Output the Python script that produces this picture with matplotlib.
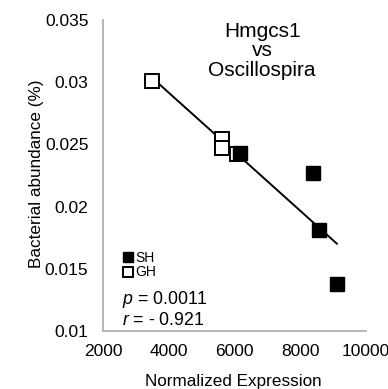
import matplotlib
matplotlib.use("Agg")
import matplotlib.pyplot as plt
import numpy as np

plt.rcParams['font.family'] = ['Liberation Sans', 'DejaVu Sans']
plt.rcParams['mathtext.fontset'] = 'custom'
plt.rcParams['mathtext.rm'] = 'Liberation Sans'
plt.rcParams['mathtext.it'] = 'Liberation Sans:italic'

# expression vs abundance
sh_x = [6170, 8400, 8570, 9110]
sh_y = [0.0243, 0.0227, 0.0181, 0.0138]
gh_x = [3480, 5610, 5610, 6070]
gh_y = [0.0301, 0.0254, 0.0247, 0.0242]

x_ticks = [2000, 4000, 6000, 8000, 10000]
y_ticks = [0.01, 0.015, 0.02, 0.025, 0.03, 0.035]
y_tick_labels = ["0.01", "0.015", "0.02", "0.025", "0.03", "0.035"]

fig = plt.figure(figsize=(3.88, 3.89), dpi=100)
ax = fig.add_axes([0.2655, 0.149, 0.678, 0.80])

all_x = np.array(gh_x + sh_x)
all_y = np.array(gh_y + sh_y)
m, c = np.polyfit(all_x, all_y, 1)          # best fit line
xs = np.array([all_x.min(), all_x.max()])
ax.plot(xs, m * xs + c, color='black', lw=1.4, zorder=1)

ax.plot(sh_x, sh_y, 's', color='black', markersize=10, label='SH', zorder=3)
ax.plot(gh_x, gh_y, 's', markerfacecolor='white', markeredgecolor='black',
        markeredgewidth=1.4, markersize=10, label='GH', zorder=2)

ax.set_xlim(2000, 10000)
ax.set_ylim(0.01, 0.035)
ax.set_xticks(x_ticks)
ax.set_yticks(y_ticks)
ax.set_yticklabels(y_tick_labels)
ax.tick_params(length=0, labelsize=12.5)
ax.tick_params(axis='x', pad=9)
ax.tick_params(axis='y', pad=10.5)

for s in ['top', 'right']:
    ax.spines[s].set_visible(False)
for s in ['left', 'bottom']:
    ax.spines[s].set_color('#b0b0b0')
    ax.spines[s].set_linewidth(1.3)

ax.set_xlabel("Normalized Expression", fontsize=12.3)
ax.xaxis.set_label_coords(0.495, -0.138)
ax.set_ylabel("Bacterial abundance (%)", fontsize=12.3)
ax.yaxis.set_label_coords(-0.226, 0.505)

ax.text(0.605, 0.994, "Hmgcs1\nvs\nOscillospira", transform=ax.transAxes,
        ha='center', va='top', fontsize=15, linespacing=1.05)

ax.legend(loc='upper left', bbox_to_anchor=(0.077, 0.258), frameon=False,
          fontsize=10, markerscale=0.72, handlelength=0.7, handletextpad=0.15,
          labelspacing=0.05, borderpad=0, borderaxespad=0)

ax.text(0.071, 0.086, "$p$ = 0.0011", transform=ax.transAxes, fontsize=12.8,
        va='baseline')
ax.text(0.071, 0.019, "$r$ = - 0.921", transform=ax.transAxes, fontsize=12.8,
        va='baseline')

fig.savefig("out.png", dpi=100)
